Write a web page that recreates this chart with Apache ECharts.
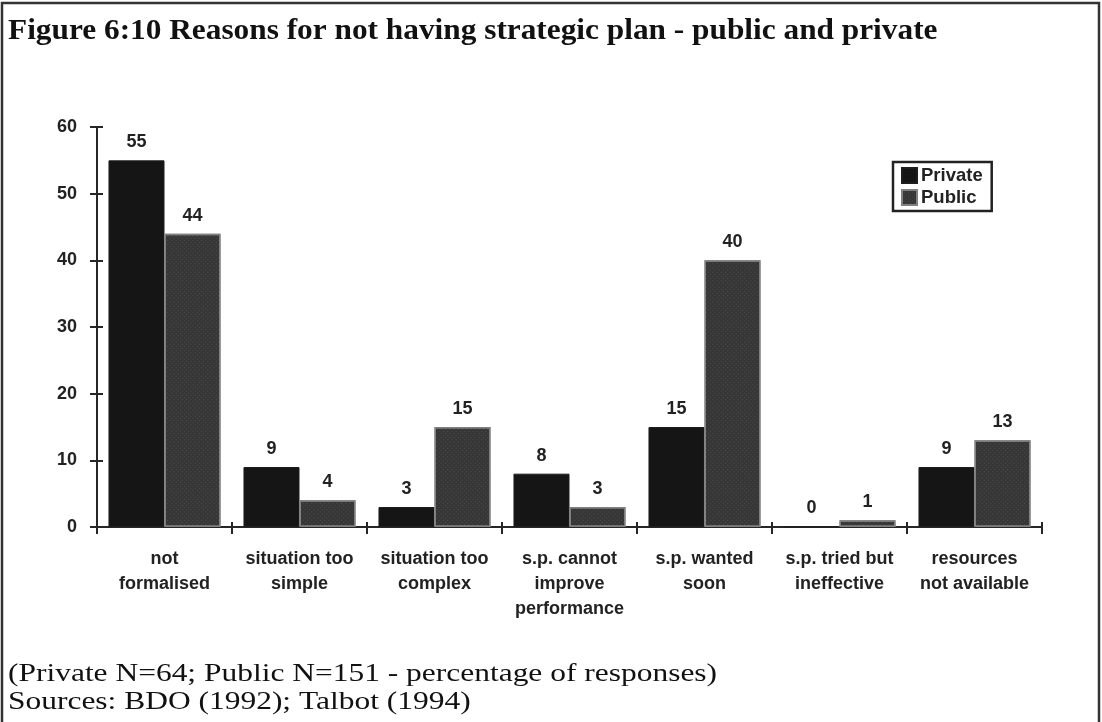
<!DOCTYPE html>
<html>
<head>
<meta charset="utf-8">
<script src="https://cdn.jsdelivr.net/npm/echarts@6/dist/echarts.min.js"></script>
<style>
  html, body { margin: 0; padding: 0; background: #ffffff; }
  #chart { width: 1102px; height: 722px; }
</style>
</head>
<body>
<div id="chart"></div>
<script>
// Reasons for not having a strategic plan (percentage of responses)
const categories = [
  'not\nformalised',
  'situation too\nsimple',
  'situation too\ncomplex',
  's.p. cannot\nimprove\nperformance',
  's.p. wanted\nsoon',
  's.p. tried but\nineffective',
  'resources\nnot available'
];
const privateValues = [55, 9, 3, 8, 15, 0, 9];
const publicValues = [44, 4, 15, 3, 40, 1, 13];
const yTicks = [0, 10, 20, 30, 40, 50, 60];

const titleText = 'Figure 6:10 Reasons for not having strategic plan - public and private';
const noteLines = [
  '(Private N=64; Public N=151 - percentage of responses)',
  'Sources: BDO (1992); Talbot (1994)'
];

const sansBold = { fontFamily: 'Liberation Sans, Arial, sans-serif', fontWeight: 'bold', fontSize: 18, color: '#222' };
const axisInk = '#262626';

const chart = echarts.init(document.getElementById('chart'), null, { renderer: 'canvas' });

chart.setOption({
  backgroundColor: '#ffffff',
  animation: false,
  legend: {
    orient: 'vertical',
    left: 893,
    top: 162,
    padding: [4, 9, 4, 8],
    itemGap: 3,
    itemWidth: 15,
    itemHeight: 15,
    icon: 'rect',
    borderColor: '#222',
    borderWidth: 2.5,
    textStyle: Object.assign({}, sansBold, { fontSize: 18.5, padding: [0, 0, 0, -1] }),
    data: ['Private', 'Public']
  },
  grid: { left: 97, right: 60, top: 127, bottom: 195 },
  xAxis: [
    {
      type: 'category',
      data: categories,
      axisLine: { lineStyle: { color: axisInk, width: 2 } },
      axisTick: { show: true, length: 7, lineStyle: { color: axisInk, width: 2 } },
      axisLabel: Object.assign({}, sansBold, { margin: 20, lineHeight: 25, interval: 0 })
    },
    {
      type: 'category',
      data: categories,
      position: 'bottom',
      axisLine: { show: false },
      axisTick: { show: true, inside: true, length: 5, lineStyle: { color: axisInk, width: 2 } },
      axisLabel: { show: false }
    }
  ],
  yAxis: [
    {
      type: 'value',
      min: 0,
      max: 60,
      interval: 10,
      splitLine: { show: false },
      axisLine: { show: true, lineStyle: { color: axisInk, width: 2 } },
      axisTick: { show: true, length: 7, lineStyle: { color: axisInk, width: 2 } },
      axisLabel: Object.assign({}, sansBold, {
        margin: 20,
        formatter: function (v) { return yTicks.indexOf(v) >= 0 ? String(v) : ''; }
      })
    },
    {
      type: 'value',
      min: 0,
      max: 60,
      interval: 10,
      position: 'left',
      splitLine: { show: false },
      axisLine: { show: false },
      axisTick: { show: true, inside: true, length: 6, lineStyle: { color: axisInk, width: 2 } },
      axisLabel: { show: false }
    }
  ],
  series: [
    {
      name: 'Private',
      type: 'bar',
      data: privateValues,
      barGap: '0%',
      barCategoryGap: '17%',
      itemStyle: { color: '#151515', borderColor: '#1e1e1e', borderWidth: 1 },
      label: Object.assign({ show: true, position: 'top', distance: 9 }, sansBold)
    },
    {
      name: 'Public',
      type: 'bar',
      data: publicValues,
      barGap: '0%',
      barCategoryGap: '17%',
      itemStyle: {
        color: '#363636',
        borderColor: '#808080',
        borderWidth: 1.5,
        decal: {
          symbol: 'rect',
          symbolSize: 1,
          color: 'rgba(255,255,255,0.12)',
          dashArrayX: [[1, 2]],
          dashArrayY: [1, 2],
          rotation: Math.PI / 4
        }
      },
      label: Object.assign({ show: true, position: 'top', distance: 9 }, sansBold)
    }
  ],
  graphic: [
    {
      type: 'rect',
      shape: { x: 2, y: 3, width: 1097, height: 740 },
      style: { fill: 'none', stroke: '#333', lineWidth: 2.5 },
      silent: true
    },
    {
      type: 'text',
      x: 8,
      y: 17,
      scaleX: 1.08,
      style: {
        text: titleText,
        font: 'bold 29px "Liberation Serif", "Times New Roman", serif',
        verticalAlign: 'top',
        fill: '#111'
      }
    },
    {
      type: 'text',
      x: 8,
      y: 660,
      scaleX: 1.21,
      style: {
        text: noteLines.join('\n'),
        font: '26px "Liberation Serif", "Times New Roman", serif',
        lineHeight: 28,
        verticalAlign: 'top',
        fill: '#111'
      }
    }
  ]
});
</script>
</body>
</html>
